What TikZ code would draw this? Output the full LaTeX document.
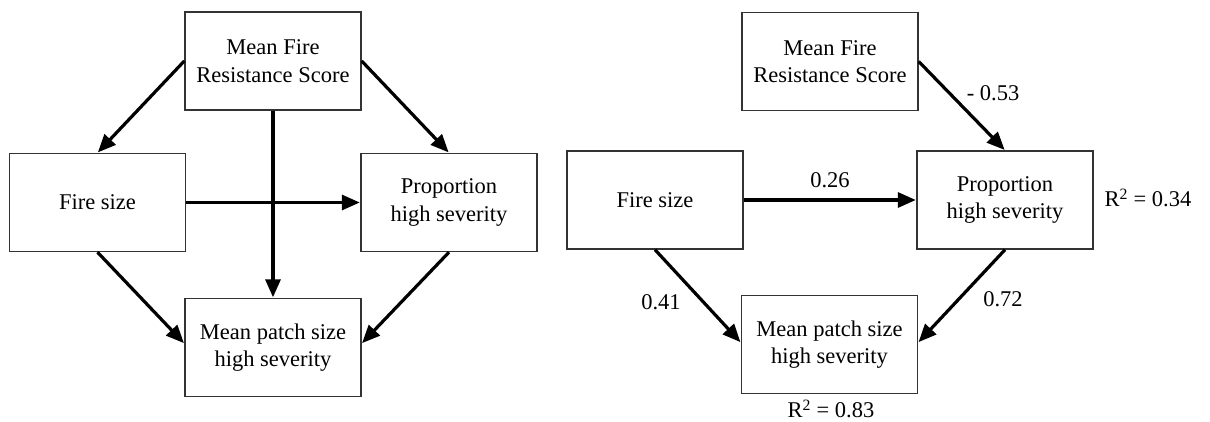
\documentclass[tikz,border=0pt]{standalone}
\usepackage{fontspec}
\setmainfont{Liberation Serif}
\newfontfamily\tnrfont{Liberation Serif}
\usetikzlibrary{arrows.meta}
\tikzset{
  box/.style={draw=black!80, line width=1.4pt, rectangle, minimum width=176pt, minimum height=98pt, inner sep=0pt, align=center, font=\tnrfont\fontsize{22.5}{27.5}\selectfont},
  arr/.style={line width=3.2pt, -{Triangle[length=18pt,width=15pt]}, shorten >=0.5pt},
  lab/.style={font=\tnrfont\fontsize{22.5}{27}\selectfont, inner sep=0pt}
}
\begin{document}
\begin{tikzpicture}[x=1pt,y=-1pt]
\useasboundingbox (0,0) rectangle (1210,422);
% left diagram
\node[box] (T) at (273,61) {Mean Fire\\Resistance Score};
\node[box] (F) at (97.5,202.5) {Fire size};
\node[box] (P) at (449,202.5) {Proportion\\high severity};
\node[box] (M) at (273,347.5) {Mean patch size\\high severity};
\draw[arr] (T.west) -- (F.north);
\draw[arr] (T.east) -- (P.north);
\draw[arr] (T.south) -- (M.north);
\draw[arr] (F.east) -- (P.west);
\draw[arr] (F.south) -- ([yshift=4pt]M.west);
\draw[arr] (P.south) -- ([yshift=4pt]M.east);
% right diagram
\node[box] (T2) at (830,61.5) {Mean Fire\\Resistance Score};
\node[box] (F2) at (655,200) {Fire size};
\node[box] (P2) at (1005,200) {Proportion\\high severity};
\node[box] (M2) at (829.5,344.5) {Mean patch size\\high severity};
\draw[arr] (T2.east) -- (P2.north);
\draw[arr] (F2.east) -- (P2.west);
\draw[arr] (F2.south) -- ([yshift=2pt]M2.west);
\draw[arr] (P2.south) -- ([yshift=2pt]M2.east);
\node[lab] (l1) at (993,93) {- 0.53};
\node[lab] (l2) at (830,180) {0.26};
\node[lab] (l3) at (661,302) {0.41};
\node[lab] (l4) at (1003,299) {0.72};
\node[lab] (r1) at (1148,198) {R\textsuperscript{2} = 0.34};
\node[lab] (r2) at (831,409) {R\textsuperscript{2} = 0.83};
\end{tikzpicture}
\end{document}
